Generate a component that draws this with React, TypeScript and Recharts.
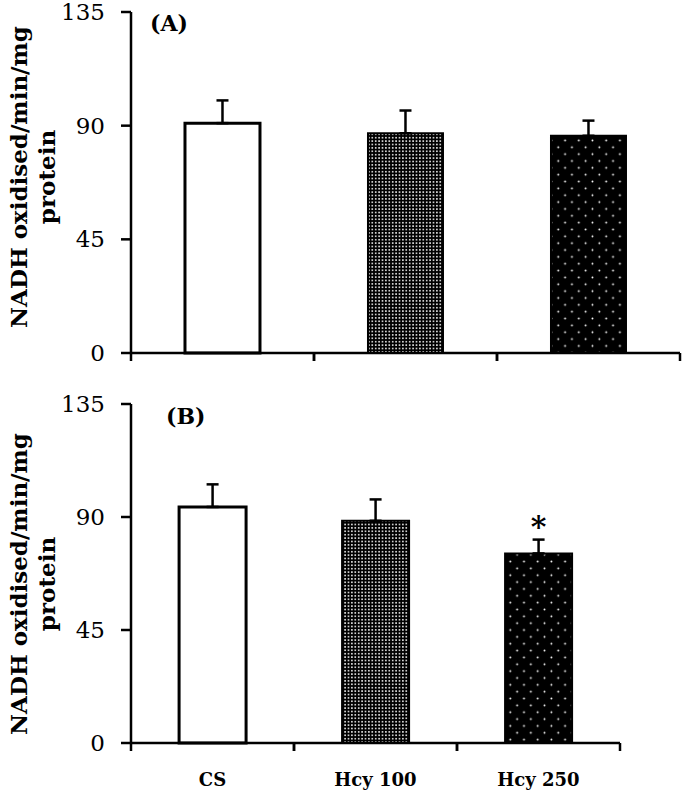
import React from "react";
import { BarChart, Bar, XAxis, YAxis, ErrorBar, Cell, LabelList } from "recharts";

const categories = ["CS", "Hcy 100", "Hcy 250"];
const valuesA = [91, 87, 86];
const errorsA = [9, 9, 6];
const valuesB = [94, 88.5, 75.5];
const errorsB = [9, 8.5, 5.5];
const sigB = ["", "", "*"];
const yTicks = [0, 45, 90, 135];

const dataA = categories.map((c, i) => ({ name: c, value: valuesA[i], err: [0, errorsA[i]], sig: "" }));
const dataB = categories.map((c, i) => ({ name: c, value: valuesB[i], err: [0, errorsB[i]], sig: sigB[i] }));

const FONT = "'DejaVu Serif', serif";

const makeTick = (showLabels: boolean, fallbackHalf: number) => (props: any) => {
  const { x, y, payload } = props;
  const half = payload && typeof payload.offset === "number" && payload.offset > 0 ? payload.offset : fallbackHalf;
  return (
    <g>
      <line x1={x - half} y1={y} x2={x - half} y2={y + 8} stroke="#000" strokeWidth={2.5} />
      <line x1={x + half} y1={y} x2={x + half} y2={y + 8} stroke="#000" strokeWidth={2.5} />
      {showLabels && (
        <text x={x} y={y + 43} textAnchor="middle" fontFamily={FONT} fontWeight="bold" fontSize={18} fill="#000">
          {payload.value}
        </text>
      )}
    </g>
  );
};

const yLabel = (cx: number, cy: number) => (
  <text transform={`translate(${cx},${cy}) rotate(-90)`} textAnchor="middle" fontFamily={FONT} fontWeight="bold" fontSize={23} fill="#000">
    <tspan x={0} y={0}>NADH oxidised/min/mg</tspan>
    <tspan x={0} y={28}>protein</tspan>
  </text>
);

const Defs = ({ p }: { p: string }) => (
  <defs>
    <pattern id={`${p}-fine`} patternUnits="userSpaceOnUse" width={3.4} height={3.4}>
      <rect width={3.4} height={3.4} fill="#000" />
      <circle cx={1.7} cy={1.7} r={0.9} fill="#fff" />
    </pattern>
    <pattern id={`${p}-sparse`} patternUnits="userSpaceOnUse" width={13.7} height={13.7}>
      <rect width={13.7} height={13.7} fill="#000" />
      <circle cx={3.4} cy={3.4} r={0.95} fill="#fff" />
      <circle cx={10.25} cy={10.25} r={0.95} fill="#fff" />
    </pattern>
  </defs>
);

const fills = (p: string) => ["#fff", `url(#${p}-fine)`, `url(#${p}-sparse)`];
const strokes = [3, 2, 2];

const Panel = ({ data, p, height, margin, axisHeight, showLabels, labelPos }: any) => {
  const plotW = 686 - margin.left - 60 - margin.right;
  const half = plotW / data.length / 2;
  return (
    <BarChart width={686} height={height} data={data} margin={margin} barCategoryGap="29.5%">
      <Defs p={p} />
      <XAxis
        dataKey="name"
        type="category"
        interval={0}
        tickLine={false}
        tickSize={0}
        tickMargin={0}
        height={axisHeight}
        axisLine={{ stroke: "#000", strokeWidth: 2.5 }}
        tick={makeTick(showLabels, half)}
      />
      <YAxis
        domain={[0, 135]}
        ticks={yTicks}
        interval={0}
        width={60}
        tickSize={10}
        tickMargin={16}
        axisLine={{ stroke: "#000", strokeWidth: 2.5 }}
        tickLine={{ stroke: "#000", strokeWidth: 2.5 }}
        tick={{ fontFamily: FONT, fontSize: 23, fill: "#000" }}
        label={{ content: () => yLabel(labelPos[0], labelPos[1]) }}
      />
      <Bar dataKey="value" isAnimationActive={false} stroke="#000">
        {data.map((_: any, i: number) => (
          <Cell key={i} fill={fills(p)[i]} stroke="#000" strokeWidth={strokes[i]} />
        ))}
        <ErrorBar dataKey="err" width={6} stroke="#000" strokeWidth={2.5} direction="y" />
        <LabelList
          dataKey="sig"
          content={(lp: any) =>
            lp.value ? (
              <text x={lp.x + lp.width / 2} y={lp.y - 16} textAnchor="middle" fontFamily={FONT} fontWeight="bold" fontSize={30} fill="#000">
                {lp.value}
              </text>
            ) : null
          }
        />
      </Bar>
    </BarChart>
  );
};

export default function App() {
  return (
    <div style={{ position: "absolute", left: 0, top: 0, width: 686, height: 792, background: "#fff", fontFamily: FONT }}>
      <div style={{ position: "absolute", left: 0, top: 0 }}>
        <Panel
          data={dataA}
          p="pa"
          height={380}
          margin={{ top: 12, right: 6, left: 71, bottom: 17 }}
          axisHeight={10}
          showLabels={false}
          labelPos={[27, 177]}
        />
      </div>
      <div style={{ position: "absolute", left: 0, top: 380 }}>
        <Panel
          data={dataB}
          p="pb"
          height={412}
          margin={{ top: 24, right: 66, left: 71, bottom: 4 }}
          axisHeight={45}
          showLabels={true}
          labelPos={[27, 204]}
        />
      </div>
      <div style={{ position: "absolute", left: 150, top: 10, fontFamily: FONT, fontWeight: "bold", fontSize: 22, lineHeight: "26px" }}>(A)</div>
      <div style={{ position: "absolute", left: 166, top: 403, fontFamily: FONT, fontWeight: "bold", fontSize: 22, lineHeight: "26px" }}>(B)</div>
    </div>
  );
}
